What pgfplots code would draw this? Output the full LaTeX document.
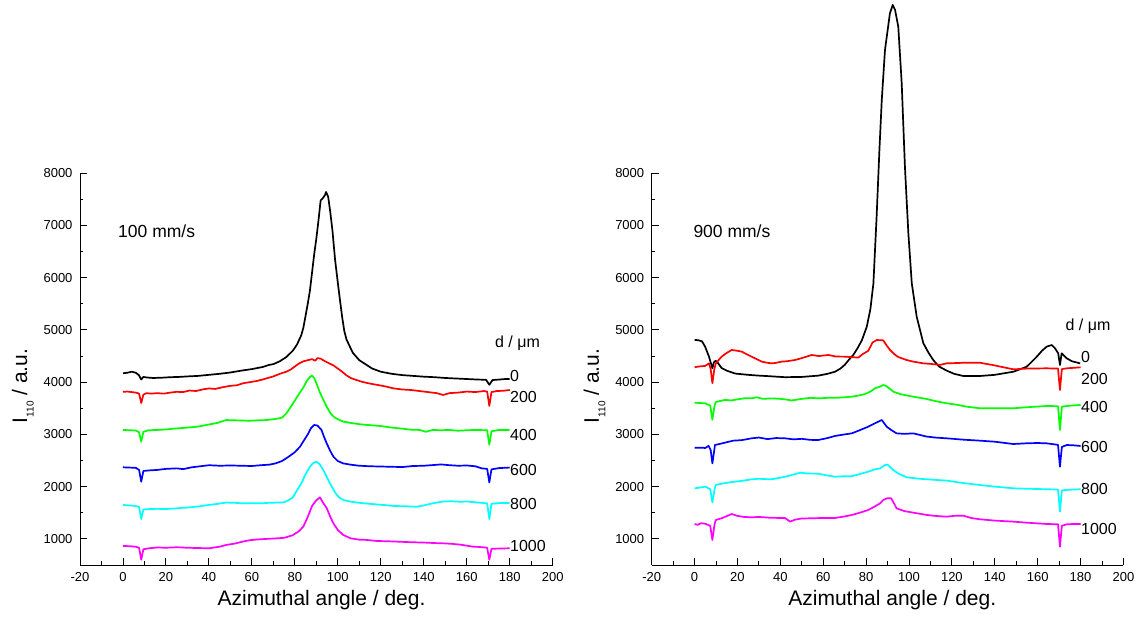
\documentclass[border=0pt]{standalone}
\usepackage{fontspec}
\setmainfont{Liberation Sans}
\usepackage{pgfplots}
\pgfplotsset{compat=1.18}
\definecolor{cgreen}{RGB}{0,255,0}
\definecolor{cred}{RGB}{255,0,0}
\definecolor{cblue}{RGB}{0,0,255}
\definecolor{ccyan}{RGB}{0,255,255}
\definecolor{cmag}{RGB}{255,0,255}
\tikzset{clab/.style={anchor=west, inner sep=0pt, font=\fontsize{16}{18}\selectfont}}
\pgfplotsset{
  panel/.style={
    scale only axis, height=391.8pt,
    xmin=-20, xmax=200, ymin=500, ymax=8000,
    axis x line*=bottom, axis y line*=left,
    axis line style={-, line width=0.9pt, black},
    xtick={-20,0,...,200}, ytick={1000,2000,...,8000},
    minor x tick num=1, minor y tick num=1,
    tick align=inside, major tick length=7pt, minor tick length=3.5pt,
    every tick/.style={line width=0.9pt, black},
    clip=false,
    /pgf/number format/assume math mode=true,
    /pgf/number format/1000 sep={},
    tick label style={font=\fontsize{13}{15}\selectfont},
    xticklabel style={yshift=-3.5pt},
    yticklabel style={xshift=-4pt},
    xlabel={Azimuthal angle / deg.},
    ylabel={I\raisebox{-6.5pt}{\fontsize{10}{12}\selectfont 110} / a.u.},
    label style={font=\fontsize{21}{25}\selectfont},
    ylabel style={at={(axis description cs:-0.112,0.457)}, anchor=base},
    every axis plot/.append style={line width=1.7pt, line join=round, mark=none},
  },
}
\begin{document}
\begin{tikzpicture}
\useasboundingbox (-80pt,-52pt) rectangle (1059pt,565pt);
%================ LEFT PANEL ================
\begin{axis}[panel, width=472.7pt, at={(0pt,0pt)}, anchor=south west,
  xlabel style={at={(axis description cs:0.511,-0.089)}, anchor=center}]
\addplot[black] coordinates {(0,4170)(2,4180)(4,4200)(6,4180)(7.5,4130)(8.5,4050)(9.5,4100)(11,4090)(14,4080)(18,4085)(22,4095)(26,4100)(30,4110)(35,4120)(40,4140)(45,4160)(50,4185)(55,4220)(60,4250)(65,4290)(68,4330)(70,4345)(73,4400)(76,4480)(79,4600)(81,4720)(83,4900)(84,5050)(86,5500)(87,5750)(88,6100)(89,6450)(90,6750)(91,7100)(92,7480)(93,7520)(94,7580)(94.5,7640)(95.5,7550)(96.5,7250)(97.5,6900)(98.7,6350)(100,5900)(101,5570)(102,5250)(103,4980)(104,4820)(105.6,4680)(107,4560)(110,4420)(113,4340)(116,4260)(120,4200)(125,4160)(130,4135)(135,4120)(140,4105)(145,4095)(150,4080)(155,4070)(160,4060)(165,4050)(169,4045)(170.5,3950)(172,4040)(175,4050)(178,4060)(180,4060)};
\addplot[cred] coordinates {(0,3815)(2,3820)(4,3810)(6,3800)(7.5,3780)(8.5,3600)(9.5,3760)(11,3790)(13,3780)(16,3790)(19,3780)(22,3800)(25,3815)(28,3810)(31,3840)(34,3830)(37,3860)(40,3880)(43,3870)(46,3900)(50,3930)(53,3940)(56,3980)(59,4000)(62,4020)(65,4050)(67,4075)(70,4110)(73,4160)(76,4200)(78,4240)(80,4300)(82,4360)(84,4400)(86,4420)(88,4440)(89.5,4410)(90.5,4460)(92,4450)(94,4400)(96,4360)(98,4320)(100,4260)(102,4200)(104,4130)(106,4080)(108,4050)(111,4010)(114,3980)(118,3950)(122,3920)(126,3880)(130,3860)(134,3850)(138,3830)(142,3810)(146,3790)(149,3755)(152,3790)(156,3800)(160,3820)(164,3810)(168,3830)(169.5,3820)(170.5,3545)(171.5,3810)(174,3830)(177,3835)(180,3850)};
\addplot[cgreen] coordinates {(0,3085)(3,3080)(6,3075)(7.5,3040)(8.5,2860)(9.5,3050)(12,3080)(16,3085)(20,3095)(25,3115)(30,3130)(35,3150)(40,3190)(44,3220)(48,3275)(52,3270)(56,3265)(59,3260)(63,3270)(67,3275)(71,3295)(74,3320)(76,3400)(78,3520)(80,3650)(82,3780)(84,3900)(85.5,4020)(87,4100)(88,4125)(89,4080)(90,3980)(91.5,3820)(93,3680)(94.8,3530)(96.5,3410)(98,3340)(100,3290)(102.5,3245)(106,3220)(110,3195)(114,3180)(120,3160)(125,3130)(129,3115)(134,3090)(138,3085)(141,3050)(144,3085)(148,3080)(152,3085)(156,3070)(160,3080)(164,3085)(169.5,3080)(170.5,2800)(171.5,3060)(175,3085)(180,3085)};
\addplot[cblue] coordinates {(0,2370)(3,2365)(6,2360)(7.5,2320)(8.5,2095)(9.5,2300)(12,2310)(16,2320)(20,2340)(25,2350)(28,2335)(32,2370)(36,2390)(40,2410)(45,2400)(50,2405)(55,2400)(60,2395)(64,2410)(68,2420)(71,2445)(74,2490)(77,2570)(80,2660)(82.4,2765)(84,2870)(86,3000)(87.5,3120)(89,3180)(90.5,3170)(92.4,3085)(93.5,2960)(94.8,2830)(96.5,2680)(98,2570)(100,2490)(102.5,2445)(106,2420)(110,2400)(115,2390)(120,2385)(125,2380)(130,2375)(135,2395)(140,2400)(145,2415)(148,2425)(152,2410)(156,2400)(160,2405)(164,2390)(167,2350)(169.5,2340)(170.5,2080)(171.5,2330)(175,2355)(180,2365)};
\addplot[ccyan] coordinates {(0,1650)(3,1640)(6,1630)(7.5,1610)(8.5,1380)(9.5,1560)(12,1570)(16,1575)(20,1570)(25,1585)(30,1600)(35,1620)(40,1650)(44,1670)(48,1695)(52,1690)(56,1680)(60,1685)(64,1680)(68,1690)(72,1695)(75,1700)(77,1740)(79,1790)(81,1930)(83,2060)(85,2240)(87,2380)(88.5,2450)(90,2480)(91.5,2430)(93.2,2320)(94.8,2190)(96.3,2065)(98,1940)(99.4,1845)(101,1780)(103,1740)(105.6,1715)(110,1690)(115,1670)(121,1650)(126,1630)(131,1625)(136.6,1615)(140,1640)(144,1680)(149,1715)(153,1720)(157,1710)(160,1715)(164,1700)(169.5,1680)(170.5,1380)(171.5,1670)(175,1685)(180,1685)};
\addplot[cmag] coordinates {(0,865)(3,860)(6,850)(7.5,830)(8.5,600)(9.5,800)(12,820)(16,835)(20,830)(25,840)(30,830)(35,825)(40,820)(45,850)(48.2,885)(52,910)(56,950)(59,975)(63,990)(67,1000)(71.5,1010)(75,1020)(79,1070)(82,1150)(84,1240)(86,1420)(88,1630)(90,1740)(91.7,1795)(93,1700)(94.8,1590)(96.3,1440)(97.9,1300)(100,1170)(102.5,1075)(106,1010)(110,985)(113.4,980)(118,960)(123,955)(128.9,945)(135,935)(140,930)(145,920)(149,915)(153,905)(157,890)(160,870)(163,850)(166,845)(169.5,830)(170.5,600)(171.5,810)(175,815)(180,820)};
\node[clab] at (axis cs:180.1,4118) {0};
\node[clab] at (axis cs:180.1,3722) {200};
\node[clab] at (axis cs:180.1,2988) {400};
\node[clab] at (axis cs:180.1,2318) {600};
\node[clab] at (axis cs:180.1,1668) {800};
\node[clab] at (axis cs:180.1,864) {1000};
\node[anchor=center, inner sep=0pt, font=\fontsize{16}{18}\selectfont] at (axis cs:183.6,4750) {d / μm};
\node[anchor=west, inner sep=0pt, font=\fontsize{17.5}{20}\selectfont] at (axis cs:-2.3,6880) {100 mm/s};
\end{axis}
%================ RIGHT PANEL ================
\begin{axis}[panel, width=471.7pt, at={(571.7pt,0pt)}, anchor=south west,
  xlabel style={at={(axis description cs:0.510,-0.089)}, anchor=center}]
\addplot[black] coordinates {(0,4810)(2,4800)(3.5,4780)(4.9,4680)(6.7,4490)(7.7,4350)(8.3,4265)(9,4380)(9.8,4410)(11,4360)(12.6,4270)(15,4220)(18.9,4165)(25,4140)(30,4125)(34.4,4115)(42.2,4095)(50,4100)(57.7,4125)(62,4160)(65.5,4200)(68,4260)(70,4330)(72,4430)(74,4520)(76,4650)(78,4800)(80.3,5060)(82,5400)(83.4,5890)(84.9,7170)(86.2,8440)(87.3,9400)(88.8,10360)(91.1,11060)(92.4,11220)(93.5,11125)(95,10805)(96.6,9720)(98.1,8125)(99.7,6850)(101.3,5890)(103.6,5250)(106.7,4745)(109,4570)(111.3,4424)(114,4300)(117.6,4220)(121,4160)(125.3,4118)(133.1,4118)(140,4140)(148.7,4200)(152,4250)(154.9,4296)(157,4380)(159.6,4488)(162,4600)(164.2,4680)(166.6,4711)(168.1,4648)(169.6,4552)(170.4,4328)(171.2,4552)(173.6,4455)(176,4400)(179.8,4360)};
\addplot[cred] coordinates {(0,4285)(2,4300)(4.9,4310)(6.7,4360)(7.5,4250)(8.3,3980)(9.2,4250)(9.9,4360)(12.6,4488)(15,4560)(17.3,4616)(20,4600)(22,4584)(24,4540)(26.6,4488)(29,4440)(31.3,4393)(34,4370)(36,4360)(38,4370)(40.6,4393)(43,4400)(46.8,4424)(50,4460)(54.6,4520)(58,4500)(62.4,4520)(66,4490)(70.2,4488)(73,4480)(76.4,4470)(78.5,4540)(81,4600)(83,4760)(85,4807)(88,4800)(89.6,4700)(91.2,4615)(93,4540)(95,4480)(98.9,4424)(102,4393)(106.7,4360)(110,4350)(114.5,4330)(117.6,4360)(125,4370)(133.1,4372)(140,4320)(148.7,4245)(155,4260)(164.2,4265)(169.5,4260)(170.4,3850)(171.3,4250)(173.6,4265)(177,4275)(180,4284)};
\addplot[cgreen] coordinates {(0,3605)(3,3600)(5,3595)(7.3,3550)(8.3,3280)(9.3,3550)(9.9,3620)(12,3640)(14.2,3660)(17,3650)(20,3670)(23,3690)(26.6,3690)(29,3710)(32,3680)(36,3690)(40,3680)(42.2,3670)(45.3,3650)(50,3680)(54,3700)(57.7,3690)(62,3700)(66,3700)(70,3710)(73.3,3722)(76,3740)(79.5,3773)(82,3820)(84.2,3883)(86.5,3914)(88,3946)(89.6,3920)(92.7,3818)(96,3770)(102,3722)(108,3680)(112,3640)(117.6,3595)(122,3570)(127,3530)(133.1,3500)(140,3500)(148.7,3500)(155,3520)(164.2,3544)(169.5,3540)(170.4,3084)(171.3,3530)(174,3545)(177,3555)(180,3563)};
\addplot[cblue] coordinates {(0,2746)(3,2746)(5,2740)(6.5,2780)(7.5,2700)(8.3,2446)(9.2,2700)(9.5,2797)(12,2820)(14.2,2842)(18,2880)(22,2890)(26.6,2925)(30,2940)(34,2910)(38,2930)(42.2,2925)(46,2905)(50,2915)(54,2895)(57.7,2893)(62,2930)(65.5,2970)(70,3000)(73.3,3020)(77,3080)(81,3148)(84,3210)(87.3,3276)(89.6,3148)(91.5,3090)(94.2,3020)(98,3010)(102,3020)(108,2960)(112,2940)(117.6,2925)(125,2900)(133.1,2880)(140,2860)(148.7,2816)(155,2830)(160,2835)(164.2,2829)(169.5,2800)(170.4,2382)(171.3,2760)(173.6,2797)(177,2790)(180,2778)};
\addplot[ccyan] coordinates {(0,1968)(3,1985)(5,2000)(7.3,1950)(8.3,1694)(9.3,1950)(9.9,2031)(13,2060)(16,2080)(18.9,2095)(22,2110)(26.6,2140)(30,2150)(35.6,2140)(40,2170)(42.2,2190)(46,2230)(49.2,2267)(53,2250)(57.7,2248)(61,2220)(65.5,2190)(70,2200)(73.3,2200)(77,2240)(81,2287)(84,2330)(86.5,2350)(88.8,2414)(90,2420)(92.7,2318)(95,2250)(99,2178)(105,2150)(112,2130)(117.6,2115)(125,2070)(133.1,2031)(140,2000)(148.7,1968)(155,1960)(164.2,1950)(169.5,1945)(170.4,1522)(171.3,1930)(173.6,1937)(177,1945)(180,1950)};
\addplot[cmag] coordinates {(0,1285)(1.5,1270)(3,1300)(5,1290)(7.3,1250)(8.3,979)(9.3,1280)(9.9,1361)(13,1400)(17.3,1476)(20,1440)(23,1420)(26.6,1413)(30,1420)(35,1405)(40,1400)(42.2,1400)(44.5,1330)(47,1370)(50,1390)(55,1395)(60,1400)(65.5,1400)(70,1430)(73.3,1457)(77,1500)(81,1553)(84,1620)(86.5,1680)(88,1745)(90,1780)(91.7,1777)(93,1680)(94.2,1585)(98,1530)(102,1502)(108,1460)(112,1440)(117.6,1425)(121,1440)(125.3,1445)(129,1400)(133.1,1375)(140,1350)(148.7,1330)(155,1310)(164.2,1285)(169.5,1280)(170.4,851)(171.3,1250)(173.6,1280)(177,1285)(180,1285)};
\node[clab] at (axis cs:180.2,4476) {0};
\node[clab] at (axis cs:180.2,4061) {200};
\node[clab] at (axis cs:180.2,3519) {400};
\node[clab] at (axis cs:180.2,2753) {600};
\node[clab] at (axis cs:180.2,1955) {800};
\node[clab] at (axis cs:180.2,1189) {1000};
\node[anchor=center, inner sep=0pt, font=\fontsize{16}{18}\selectfont] at (axis cs:183.5,5075) {d / μm};
\node[anchor=west, inner sep=0pt, font=\fontsize{17.5}{20}\selectfont] at (axis cs:-0.6,6880) {900 mm/s};
\end{axis}
\end{tikzpicture}
\end{document}
